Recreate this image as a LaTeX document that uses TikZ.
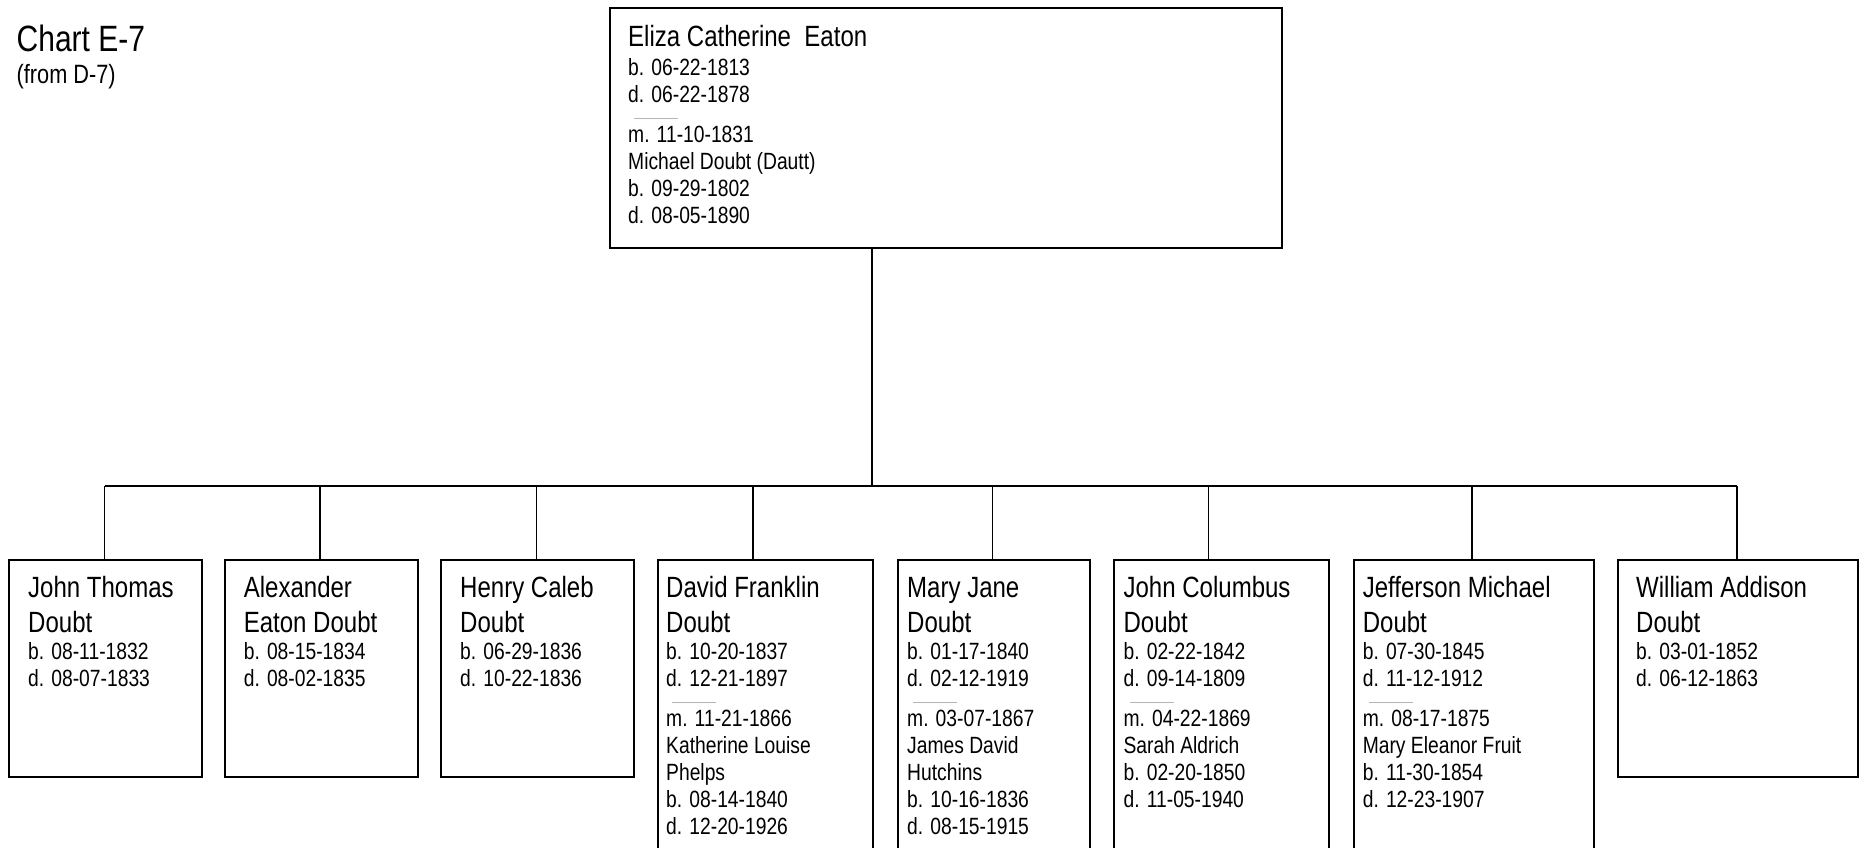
\documentclass[tikz,border=0pt]{standalone}
\usepackage{fontspec}
\setmainfont[FakeStretch=0.82]{Liberation Sans}
\usepackage{xcolor}
\definecolor{sepgray}{RGB}{180,180,180}
\newcommand\nmfont{\fontsize{29.3}{34.3}\selectfont}
\newcommand\infont{\fontsize{23.5}{27}\selectfont}
\newcommand\sepline{\hspace*{6pt}\textcolor{sepgray}{\rule{44pt}{1.3pt}}}
\newcommand\Nstrut{\rule{0pt}{23pt}}
\newcommand\Istrut{\rule{0pt}{18.5pt}}
\tikzset{
  box/.style={draw, line width=1.6pt, inner sep=0pt, anchor=north west},
  nametext/.style={font=\nmfont, align=left, inner sep=0pt, anchor=north west},
  infotext/.style={font=\infont, align=left, inner sep=0pt, anchor=north west},
  link/.style={line width=1.6pt}
}
\begin{document}
\begin{tikzpicture}[x=1pt, y=-1pt]
\clip (0,0) rectangle (1864,847);
\fill[white] (0,0) rectangle (1864,847);

% title
\node[font=\fontsize{36.6}{40}\selectfont, anchor=base west, inner sep=0pt] (title) at (16.5,51) {Chart E-7};
\node[font=\fontsize{26.5}{30}\selectfont, anchor=base west, inner sep=0pt] (from) at (16.5,83) {(from D-7)};

% top box
\node[box, minimum width=672pt, minimum height=240pt] (top) at (609,7) {};
\node[nametext] (topname) at (628,23.5) {\Nstrut Eliza Catherine~ Eaton};
\node[infotext] (topinfo) at (628,56.5) {\Istrut b. 06-22-1813\\d. 06-22-1878\\[-9.8pt]\sepline\\[-3.5pt]m. 11-10-1831\\Michael Doubt (Dautt)\\b. 09-29-1802\\d. 08-05-1890};

% children boxes
\node[box, minimum width=193pt, minimum height=217pt] (c1) at (8,559) {};
\node[box, minimum width=193pt, minimum height=217pt] (c2) at (224,559) {};
\node[box, minimum width=193pt, minimum height=217pt] (c3) at (440,559) {};
\node[box, minimum width=215pt, minimum height=320pt] (c4) at (657,559) {};
\node[box, minimum width=192pt, minimum height=320pt] (c5) at (897,559) {};
\node[box, minimum width=215pt, minimum height=320pt] (c6) at (1113,559) {};
\node[box, minimum width=240pt, minimum height=320pt] (c7) at (1353,559) {};
\node[box, minimum width=240pt, minimum height=217pt] (c8) at (1617,559) {};

% children text
\node[nametext] (n1) at (28,574.7) {\Nstrut John Thomas\\Doubt};
\node[infotext] (i1) at (28,640.5) {\Istrut b. 08-11-1832\\d. 08-07-1833};

\node[nametext] (n2) at (243.6,574.7) {\Nstrut Alexander\\Eaton Doubt};
\node[infotext] (i2) at (243.6,640.5) {\Istrut b. 08-15-1834\\d. 08-02-1835};

\node[nametext] (n3) at (460,574.7) {\Nstrut Henry Caleb\\Doubt};
\node[infotext] (i3) at (460,640.5) {\Istrut b. 06-29-1836\\d. 10-22-1836};

\node[nametext] (n4) at (666,574.7) {\Nstrut David Franklin\\Doubt};
\node[infotext] (i4) at (666,640.5) {\Istrut b. 10-20-1837\\d. 12-21-1897\\[-9.8pt]\sepline\\[-3.5pt]m. 11-21-1866\\Katherine Louise\\Phelps\\b. 08-14-1840\\d. 12-20-1926};

\node[nametext] (n5) at (907,574.7) {\Nstrut Mary Jane\\Doubt};
\node[infotext] (i5) at (907,640.5) {\Istrut b. 01-17-1840\\d. 02-12-1919\\[-9.8pt]\sepline\\[-3.5pt]m. 03-07-1867\\James David\\Hutchins\\b. 10-16-1836\\d. 08-15-1915};

\node[nametext] (n6) at (1123.4,574.7) {\Nstrut John Columbus\\Doubt};
\node[infotext] (i6) at (1123.4,640.5) {\Istrut b. 02-22-1842\\d. 09-14-1809\\[-9.8pt]\sepline\\[-3.5pt]m. 04-22-1869\\Sarah Aldrich\\b. 02-20-1850\\d. 11-05-1940};

\node[nametext] (n7) at (1362.6,574.7) {\Nstrut Jefferson Michael\\Doubt};
\node[infotext] (i7) at (1362.6,640.5) {\Istrut b. 07-30-1845\\d. 11-12-1912\\[-9.8pt]\sepline\\[-3.5pt]m. 08-17-1875\\Mary Eleanor Fruit\\b. 11-30-1854\\d. 12-23-1907};

\node[nametext] (n8) at (1636,574.7) {\Nstrut William Addison\\Doubt};
\node[infotext] (i8) at (1636,640.5) {\Istrut b. 03-01-1852\\d. 06-12-1863};

% connectors
\coordinate (hub) at (872,486);
\coordinate (d1) at (104.5,486);
\coordinate (d2) at (320,486);
\coordinate (d3) at (536.5,486);
\coordinate (d4) at (752.7,486);
\coordinate (d5) at (992.5,486);
\coordinate (d6) at (1208.6,486);
\coordinate (d7) at (1472,486);
\coordinate (d8) at (1736.8,486);
\draw[link] (top.south -| hub) -- (hub);
\draw[link] (d1) -- (d8);
\foreach \k in {1,...,8} {
  \draw[link] (d\k) -- (d\k |- c\k.north);
}
\end{tikzpicture}
\end{document}
